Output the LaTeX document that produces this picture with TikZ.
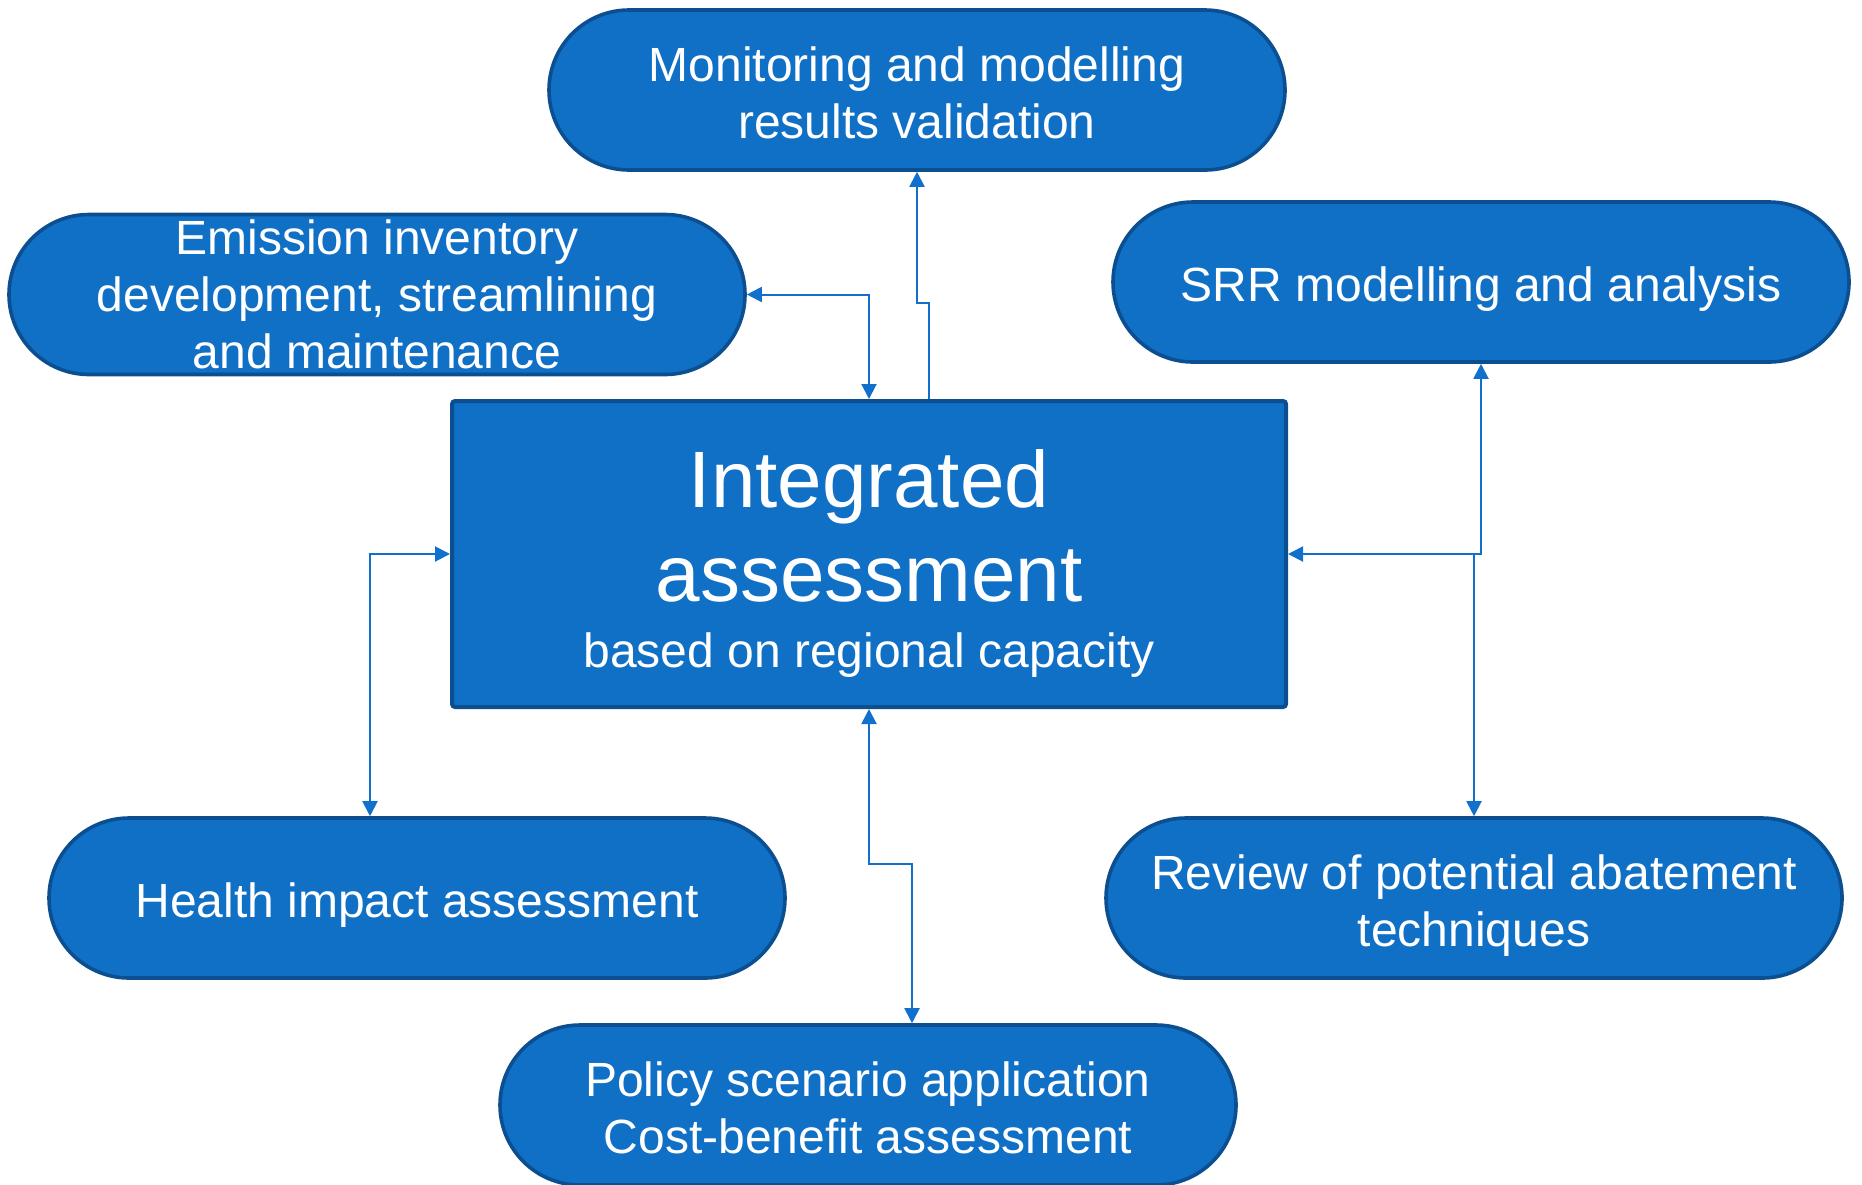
\documentclass[tikz,border=0pt]{standalone}
\usepackage{fontspec}
\setmainfont{Liberation Sans}
\usetikzlibrary{arrows.meta,calc}
\definecolor{boxfill}{HTML}{1070C6}
\definecolor{boxline}{HTML}{0C4F90}
\definecolor{linkc}{HTML}{1070CC}
\newcommand{\topfix}{\rule{0pt}{24.5pt}}
\newcommand{\botfix}{\rule[-5pt]{0pt}{5pt}}
\begin{document}
\begin{tikzpicture}[x=0.5pt,y=-0.5pt,
  oval/.style={draw=boxline, fill=boxfill, line width=1.8pt, rounded corners=40pt,
    minimum width=368pt, minimum height=80pt, text=white, align=center,
    font=\fontsize{24}{28.5}\selectfont, inner sep=0pt},
  core/.style={draw=boxline, fill=boxfill, line width=2pt, rounded corners=1.5pt,
    minimum width=417pt, minimum height=153pt, text=white, align=center,
    font=\fontsize{40}{47}\selectfont, inner sep=0pt},
  link/.style={draw=linkc, line width=1pt},
  tip/.tip={Triangle[length=7.5pt,width=7.5pt]},
  one/.style={link, -tip},
  two/.style={link, tip-tip}]
\useasboundingbox (0,0) rectangle (1862,1184);

\node[core] (cen) at (869,554) {\rule{0pt}{38.5pt}Integrated\\assessment\\[-14pt]{\fontsize{24}{29}\selectfont based on regional capacity}};

\node[oval] (mon) at (917,90) {\topfix Monitoring and modelling\\results validation\botfix};
\node[oval] (emi) at (377,294.5) {Emission inventory\\development, streamlining\\and maintenance};
\node[oval] (srr) at (1481,282) {\topfix SRR modelling and analysis\botfix};
\node[oval] (hea) at (417,898) {\topfix Health impact assessment\botfix};
\node[oval] (rev) at (1474,898) {\topfix Review of potential abatement\\techniques\botfix};
\node[oval] (pol) at (868,1105) {\topfix Policy scenario application\\Cost-benefit assessment\botfix};

\draw[one] ([xshift=30pt]cen.north) -- ++(0,-96) -| (mon.south);
\draw[two] (emi.east) -| (cen.north);
\draw[two] (cen.west) -| ([xshift=-23.5pt]hea.north);
\draw[two] (cen.east) -| (srr.south);
\draw[one] (cen.east -| rev.north) -- (rev.north);
\draw[two] (cen.south) -- ++(0,155) -| ([xshift=22pt]pol.north);
\end{tikzpicture}
\end{document}
